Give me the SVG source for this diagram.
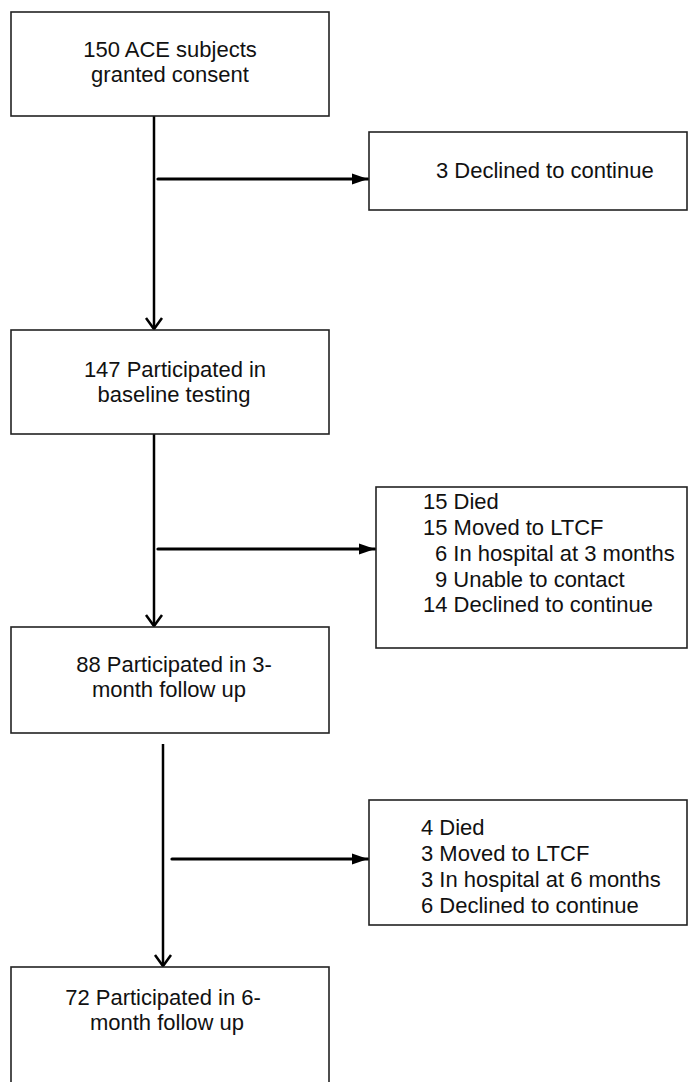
<svg xmlns="http://www.w3.org/2000/svg" width="688" height="1082" viewBox="0 0 688 1082">
<style>
.box{fill:#fff;stroke:#222;stroke-width:1.6}
.t{font-family:"Liberation Sans",Arial,sans-serif;font-size:22px;fill:#111}
.c{text-anchor:middle}
.v{stroke:#000;stroke-width:2.5;fill:none}
.h{stroke:#000;stroke-width:3.2;fill:none;stroke-linecap:round}
.vh{stroke:#000;stroke-width:2.5;fill:none}
</style>
<defs>
<marker id="tri" markerUnits="userSpaceOnUse" markerWidth="18" markerHeight="12" refX="16" refY="6" orient="auto">
<path d="M0,0.5 L16,6 L0,11.5 Z" fill="#000"/>
</marker>
</defs>
<rect width="688" height="1082" fill="#fff"/>
<g id="connectors">
<line class="v" x1="154" y1="116" x2="154" y2="329"/>
<path class="vh" d="M146,318 L154,329 L162,318"/>
<line class="h" x1="158" y1="179" x2="368" y2="179" marker-end="url(#tri)"/>
<line class="v" x1="154" y1="434" x2="154" y2="626"/>
<path class="vh" d="M146,615 L154,626 L162,615"/>
<line class="h" x1="158" y1="549" x2="375" y2="549" marker-end="url(#tri)"/>
<line class="v" x1="163" y1="744" x2="163" y2="966"/>
<path class="vh" d="M155,955 L163,966 L171,955"/>
<line class="h" x1="172" y1="859" x2="368" y2="859" marker-end="url(#tri)"/>
</g>
<g id="n1">
<rect class="box" x="11" y="12" width="318" height="104"/>
<text class="t c" x="170" y="57">150 ACE subjects</text>
<text class="t c" x="170" y="82">granted consent</text>
</g>
<g id="n2">
<rect class="box" x="369" y="132" width="318" height="78"/>
<text class="t" x="436" y="178">3 Declined to continue</text>
</g>
<g id="n3">
<rect class="box" x="11" y="330" width="318" height="104"/>
<text class="t c" x="175" y="377">147 Participated in</text>
<text class="t c" x="174" y="402">baseline testing</text>
</g>
<g id="n4">
<rect class="box" x="376" y="487" width="311" height="161"/>
<text class="t" x="423" y="509">15 Died</text>
<text class="t" x="423" y="535">15 Moved to LTCF</text>
<text class="t" x="435" y="561">6 In hospital at 3 months</text>
<text class="t" x="435" y="587">9 Unable to contact</text>
<text class="t" x="423" y="612">14 Declined to continue</text>
</g>
<g id="n5">
<rect class="box" x="11" y="627" width="318" height="106"/>
<text class="t c" x="174" y="672">88 Participated in 3-</text>
<text class="t c" x="169" y="697">month follow up</text>
</g>
<g id="n6">
<rect class="box" x="369" y="800" width="318" height="125"/>
<text class="t" x="421" y="835">4 Died</text>
<text class="t" x="421" y="861">3 Moved to LTCF</text>
<text class="t" x="421" y="887">3 In hospital at 6 months</text>
<text class="t" x="421" y="913">6 Declined to continue</text>
</g>
<g id="n7">
<rect class="box" x="11" y="967" width="318" height="130"/>
<text class="t c" x="163" y="1005">72 Participated in 6-</text>
<text class="t c" x="167" y="1030">month follow up</text>
</g>
</svg>
